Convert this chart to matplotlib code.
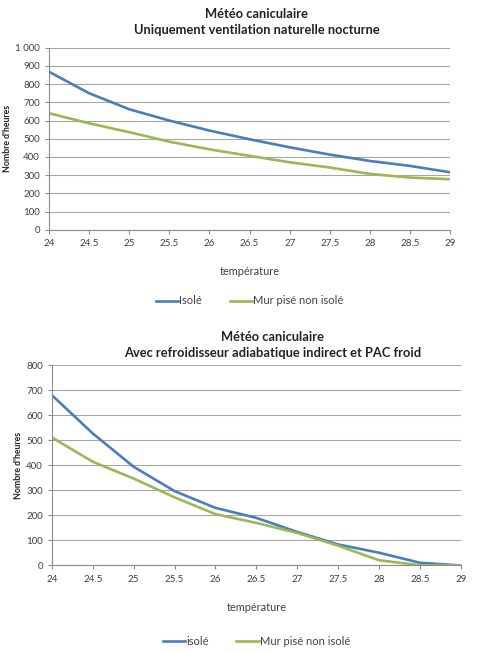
import matplotlib.pyplot as plt

temperature = [24, 24.5, 25, 25.5, 26, 26.5, 27, 27.5, 28, 28.5, 29]

# graphique 1 : ventilation naturelle nocturne
isole_1 = [868, 750, 662, 600, 545, 497, 453, 413, 378, 351, 316]
pise_1 = [640, 585, 536, 484, 442, 406, 371, 342, 307, 287, 278]

# graphique 2 : refroidisseur adiabatique + PAC
isole_2 = [680, 527, 394, 297, 230, 190, 134, 84, 51, 11, 0]
pise_2 = [511, 414, 347, 272, 205, 170, 130, 79, 21, 1, 0]

yticks_1 = [0, 100, 200, 300, 400, 500, 600, 700, 800, 900, 1000]
ylabels_1 = ['0', '100', '200', '300', '400', '500', '600', '700', '800', '900', '1 000']
yticks_2 = [0, 100, 200, 300, 400, 500, 600, 700, 800]

BLUE = '#4a7ebb'
GREEN = '#98b954'
GRID = '#a6a6a6'
TXT = '#404040'

plt.rcParams['font.family'] = ['Lato', 'DejaVu Sans']

fig = plt.figure(figsize=(4.8, 6.53), dpi=100)


def draw(ax, isole, pise, yticks, ylabels, names, titre, tcx, ty, leg_y):
	ax.plot(temperature, isole, color=BLUE, lw=1.9, label=names[0])
	ax.plot(temperature, pise, color=GREEN, lw=1.9, label=names[1])
	ax.set_xlim(24, 29)
	ax.set_ylim(yticks[0], yticks[-1])
	ax.set_xticks(temperature)
	ax.set_xticklabels([f'{t:g}' for t in temperature])
	ax.set_yticks(yticks)
	ax.set_yticklabels(ylabels)
	ax.grid(axis='y', color=GRID, lw=0.8)
	ax.set_axisbelow(True)
	for s in ['top', 'right']:
		ax.spines[s].set_visible(False)
	for s in ['left', 'bottom']:
		ax.spines[s].set_color('#8c8c8c')
	ax.tick_params(colors='#8c8c8c', labelcolor=TXT, labelsize=7, length=3, width=0.8)
	ax.set_ylabel("Nombre d'heures", fontsize=6.3, fontweight='bold', color='#222222', labelpad=2)
	ax.set_xlabel('température', fontsize=7.8, color=TXT, labelpad=13)
	fig.text(tcx, ty, titre, ha='center', va='top', fontsize=9.3, fontweight='bold',
	         color='#222222', linespacing=1.4)
	ax.legend(loc='upper center', bbox_to_anchor=(0.5, leg_y), ncol=2, frameon=False,
	          fontsize=8, handlelength=2.0, handletextpad=0.1, columnspacing=2.5,
	          labelcolor=TXT)


ax1 = fig.add_axes([0.102, 0.648, 0.836, 0.279])
draw(ax1, isole_1, pise_1, yticks_1, ylabels_1, ['Isolé', 'Mur pisé non isolé'],
     'Météo caniculaire\nUniquement ventilation naturelle nocturne', 0.535, 0.987, -0.305)

ax2 = fig.add_axes([0.108, 0.134, 0.852, 0.307])
draw(ax2, isole_2, pise_2, yticks_2, [str(v) for v in yticks_2], ['isolé', 'Mur pisé non isolé'],
     'Météo caniculaire\nAvec refroidisseur adiabatique indirect et PAC froid', 0.567, 0.493, -0.30)

fig.savefig('out.png', dpi=100)
